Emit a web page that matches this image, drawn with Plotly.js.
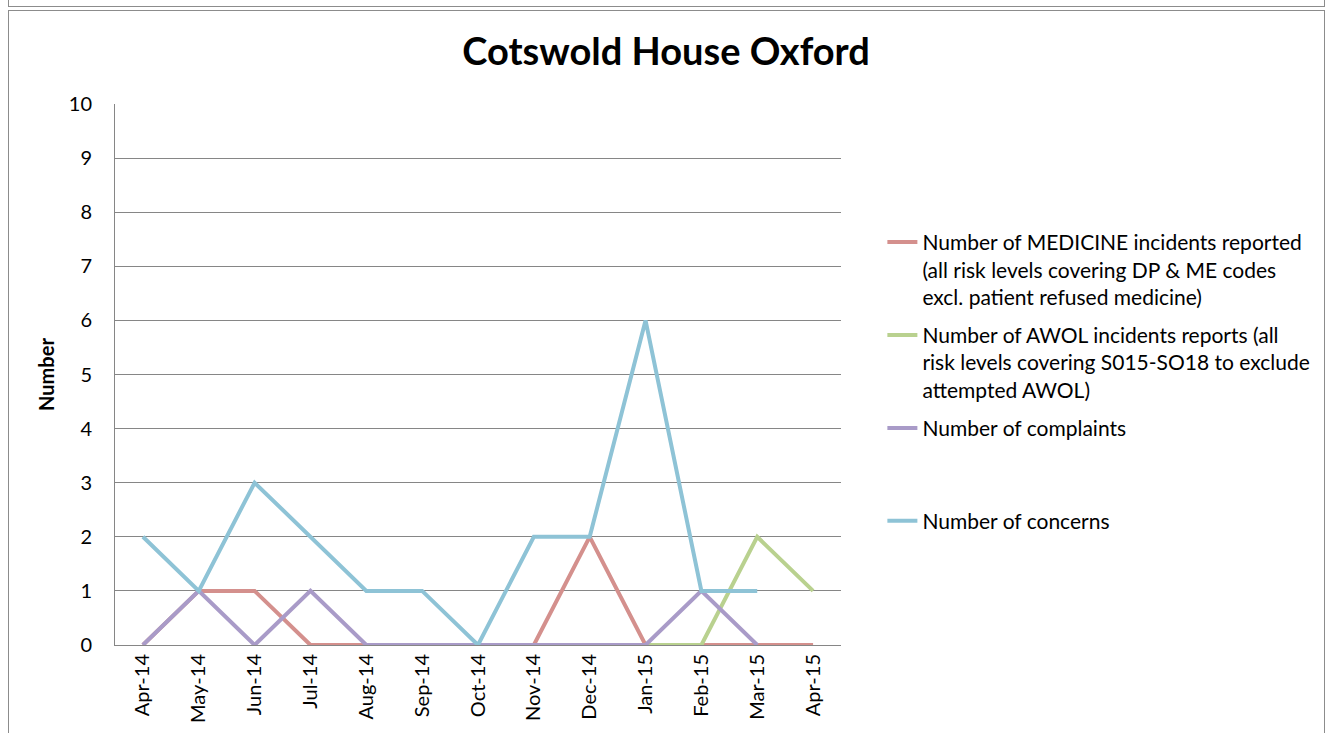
<!DOCTYPE html>
<html>
<head>
<meta charset="utf-8">
<script src="https://cdn.plot.ly/plotly-3.0.1.min.js"></script>
<style>
  html, body { margin: 0; padding: 0; background: #ffffff; width: 1332px; height: 733px; overflow: hidden; }
  #prev { position: absolute; left: 8px; top: -10px; width: 1315px; height: 15px; border: 1px solid #8c8c8c; }
  #frame { position: absolute; left: 8px; top: 10px; width: 1315px; height: 740px; border: 1px solid #8c8c8c; }
  #chart { position: absolute; left: 0; top: 0; width: 1332px; height: 733px; }
</style>
</head>
<body>
<div id="prev"></div>
<div id="frame"></div>
<div id="chart"></div>
<script>
const months = ["Apr-14","May-14","Jun-14","Jul-14","Aug-14","Sep-14","Oct-14","Nov-14","Dec-14","Jan-15","Feb-15","Mar-15","Apr-15"];
const medicine   = [0, 1, 1, 0, 0, 0, 0, 0, 2, 0, 0, 0, 0];
const awol       = [null, null, null, null, null, null, null, null, null, 0, 0, 2, 1];
const complaints = [0, 1, 0, 1, 0, 0, 0, 0, 0, 0, 1, 0, null];
const concerns   = [2, 1, 3, 2, 1, 1, 0, 2, 2, 6, 1, 1, null];
const seriesNames = [
  "Number of MEDICINE incidents reported<br>(all risk levels covering DP & ME codes<br>excl. patient refused medicine)",
  "Number of AWOL incidents reports (all<br>risk levels covering S015-SO18 to exclude<br>attempted AWOL)",
  "Number of complaints<br>&nbsp;<br>&nbsp;",
  "Number of concerns"
];
const colors = ["#D4908D", "#B9D18F", "#A99BC8", "#8EC3D6"];
const allSeries = [medicine, awol, complaints, concerns];

const traces = allSeries.map((vals, i) => ({
  type: "scatter",
  mode: "lines",
  x: months,
  y: vals,
  name: seriesNames[i],
  legendgroup: "g" + i,
  line: { color: colors[i], width: 4 },
  connectgaps: false,
  hoverinfo: "x+y"
}));

const font = "Lato, 'Open Sans', sans-serif";
const layout = {
  width: 1332,
  height: 733,
  margin: { l: 115, r: 491, t: 104, b: 88 },
  paper_bgcolor: "rgba(0,0,0,0)",
  plot_bgcolor: "rgba(0,0,0,0)",
  font: { family: font, color: "#000000", size: 20 },
  title: {
    text: "<b>Cotswold House Oxford</b>",
    font: { family: font, size: 38, color: "#000000" },
    x: 0.5, xref: "container", xanchor: "center",
    y: 0.929, yref: "container", yanchor: "middle"
  },
  xaxis: {
    type: "category",
    range: [-0.5, 12.5],
    showgrid: false,
    showline: true,
    linecolor: "#868686",
    linewidth: 1,
    ticks: "",
    tickangle: -90,
    tickfont: { family: font, size: 20, color: "#000000" },
    zeroline: false,
    fixedrange: true
  },
  yaxis: {
    range: [0, 10],
    dtick: 1,
    showgrid: true,
    gridcolor: "#868686",
    gridwidth: 1,
    showline: true,
    linecolor: "#868686",
    linewidth: 1,
    ticks: "",
    ticklabelstandoff: 18,
    tickfont: { family: font, size: 20, color: "#000000" },
    zeroline: false,
    title: { text: "<b>Number</b>", font: { family: font, size: 20, color: "#000000" }, standoff: 8 },
    fixedrange: true
  },
  showlegend: true,
  legend: {
    x: 1.057, xanchor: "left",
    y: 0.782, yanchor: "top",
    valign: "top",
    tracegroupgap: 8,
    font: { family: font, size: 21, color: "#000000" },
    bgcolor: "rgba(0,0,0,0)"
  }
};

Plotly.newPlot("chart", traces, layout, { displayModeBar: false, staticPlot: true });
</script>
</body>
</html>
